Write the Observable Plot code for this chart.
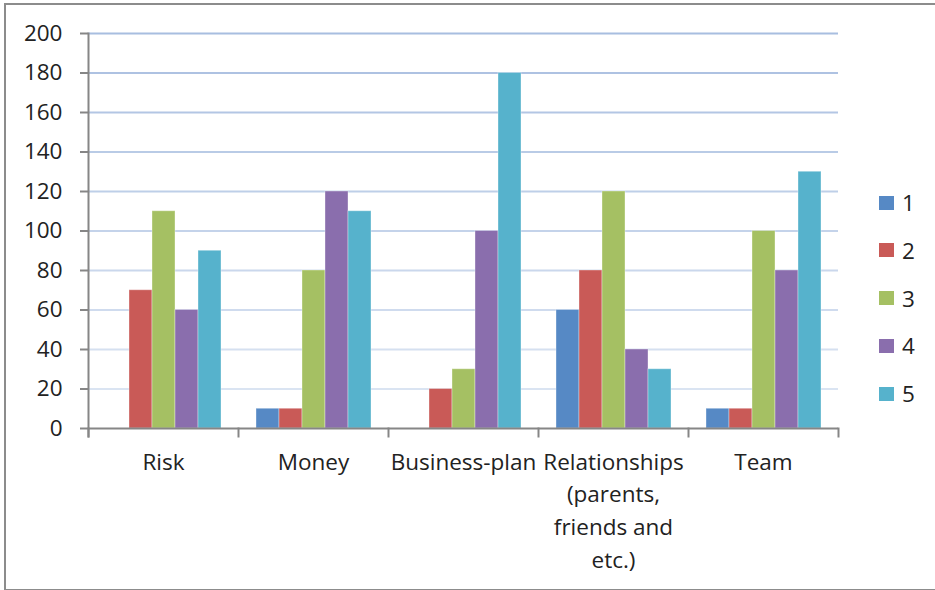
<!DOCTYPE html>
<html>
<head>
<meta charset="utf-8">
<script src="https://cdn.jsdelivr.net/npm/d3@7"></script>
<script src="https://cdn.jsdelivr.net/npm/@observablehq/plot@0.6"></script>
<style>
  html, body { margin: 0; padding: 0; background: #fff; }
  #wrap { position: relative; width: 935px; height: 590px; overflow: hidden; font-family: "Open Sans", sans-serif; }
  #border { position: absolute; left: 4px; top: 3px; width: 1000px; height: 584px; border-left: 2px solid #8c8c8c; border-top: 2px solid #8c8c8c; border-bottom: 2px solid #8c8c8c; box-sizing: content-box; }
  #chart { position: absolute; left: 0; top: 0; }
  .lg { position: absolute; display: flex; align-items: center; font-size: 22.5px; color: #222; }
  .lg span.sw { display: inline-block; width: 15px; height: 14px; margin-right: 8px; }
</style>
</head>
<body>
<div id="wrap">
  <div id="border"></div>
  <div id="chart"></div>
</div>
<script>
// Data
const categories = ["Risk", "Money", "Business-plan", "Relationships (parents, friends and etc.)", "Team"];
const categoryLabels = ["Risk", "Money", "Business-plan", "Relationships\n(parents,\nfriends and\netc.)", "Team"];
const series = ["1", "2", "3", "4", "5"];
const values1 = [0, 10, 0, 60, 10];
const values2 = [70, 10, 20, 80, 10];
const values3 = [110, 80, 30, 120, 100];
const values4 = [60, 120, 100, 40, 80];
const values5 = [90, 110, 180, 30, 130];
const yTicks = [0, 20, 40, 60, 80, 100, 120, 140, 160, 180, 200];
const colors = ["#5689c5", "#c95a57", "#a5c063", "#8a6ead", "#56b2cc"];

const allValues = [values1, values2, values3, values4, values5];
const rows = [];
series.forEach((s, si) => {
  categories.forEach((c, ci) => {
    rows.push({category: c, series: s, value: allValues[si][ci]});
  });
});
const labelOf = new Map(categories.map((c, i) => [c, categoryLabels[i]]));

const W = 935, H = 590, mL = 88, mR = 97, mT = 33, mB = 162;
const plotH = H - mT - mB;
const gridColor = d3.interpolateRgb("#e0e8f4", "#a8bee0");

const plot = Plot.plot({
  width: W,
  height: H,
  marginLeft: mL,
  marginRight: mR,
  marginTop: mT,
  marginBottom: mB,
  style: {fontFamily: "'Open Sans', sans-serif", fontSize: "22.5px", color: "#222", background: "transparent", overflow: "visible"},
  fx: {domain: categories, padding: 0, label: null},
  x: {domain: series, paddingInner: 0, paddingOuter: 0.733, axis: null},
  y: {domain: [0, 200], label: null},
  color: {domain: series, range: colors},
  marks: [
    ...yTicks.filter(t => t > 0).map(t => Plot.ruleY([t], {stroke: gridColor(t / 200), strokeWidth: 2})),
    Plot.barY(rows.filter(d => d.value > 0), {fx: "category", x: "series", y: "value", fill: "series", stroke: "#ffffff", strokeOpacity: 0.35, strokeWidth: 1}),
    Plot.ruleY([0], {stroke: "#868686", strokeWidth: 2}),
    Plot.frame({anchor: "left", facetAnchor: "left", stroke: "#868686", strokeWidth: 2, insetBottom: -8, dx: 0, dy: 0}),
    Plot.frame({anchor: "left", stroke: "#868686", strokeWidth: 2, insetTop: plotH, insetBottom: -8, dx: 0, dy: 0}),
    Plot.frame({anchor: "right", facetAnchor: "right", stroke: "#868686", strokeWidth: 2, insetTop: plotH, insetBottom: -8, dx: 0, dy: 0}),
    Plot.axisY({ticks: yTicks, tickSize: 8, tickPadding: 18, stroke: "#868686", strokeWidth: 2, fill: "#222", fontSize: 22.5, label: null}),
    Plot.axisFx({anchor: "bottom", tickSize: 0, tickPadding: 18, fill: "#222", fontSize: 22.5, lineHeight: 1.45, tickFormat: d => labelOf.get(d), label: null})
  ]
});
document.getElementById("chart").appendChild(plot);

// Legend (right side)
const colorScale = plot.scale("color");
const wrap = document.getElementById("wrap");
const legendTop = 202.5, legendStep = 47.75;
series.forEach((s, i) => {
  const item = document.createElement("div");
  item.className = "lg";
  item.style.left = "879px";
  item.style.top = (legendTop + i * legendStep - 15) + "px";
  item.style.height = "30px";
  const sw = document.createElement("span");
  sw.className = "sw";
  sw.style.background = colorScale.apply(s);
  const tx = document.createElement("span");
  tx.textContent = s;
  item.appendChild(sw);
  item.appendChild(tx);
  wrap.appendChild(item);
});
</script>
</body>
</html>
